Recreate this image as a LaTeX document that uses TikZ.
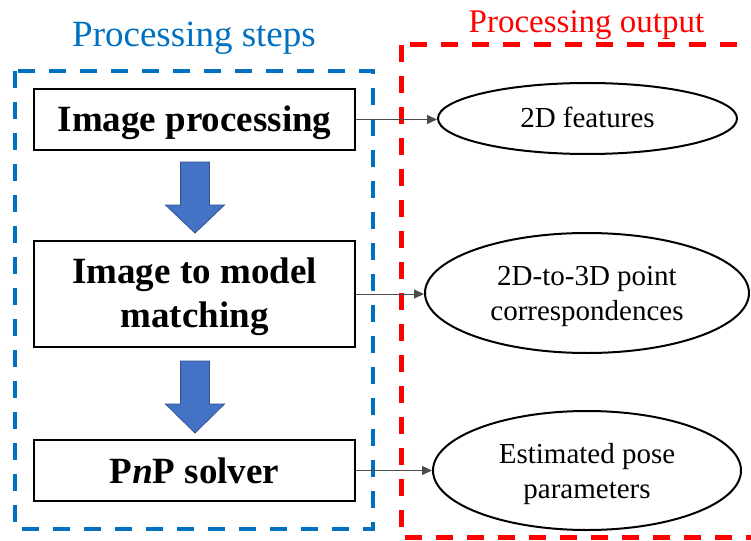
\documentclass[tikz,border=0pt]{standalone}
\usepackage{fontspec}
\setmainfont{Liberation Serif}
\usetikzlibrary{shapes.geometric,arrows.meta}
\definecolor{stepblue}{HTML}{0070C0}
\definecolor{outred}{HTML}{FF0000}
\definecolor{arrowfill}{HTML}{4472C4}
\definecolor{arrowedge}{HTML}{2F528F}
\tikzset{
  stepbox/.style={draw=black, line width=2pt, rectangle, inner sep=0pt,
    minimum width=321pt, font=\fontsize{37}{44}\selectfont\bfseries, align=center},
  outellipse/.style={draw=black, line width=2pt, ellipse, inner sep=0pt,
    font=\fontsize{29}{35}\selectfont, align=center},
  link/.style={draw=black!70, line width=1pt, -{Triangle[length=10pt,width=9pt]}},
  blockarrow/.style={fill=arrowfill, draw=arrowedge, line width=0.8pt, line join=miter},
  groupframe/.style={line width=#1, dash pattern=on 17pt off 14pt},
}
\begin{document}
\begin{tikzpicture}[x=1pt,y=-1pt]
  \path[use as bounding box, fill=white] (0,0) rectangle (751,540);
  \clip (0,0) rectangle (751,540);

  % group frames
  \draw[groupframe=4pt, draw=stepblue] (15,71) rectangle (373,529);
  \draw[groupframe=5pt, draw=outred] (401,45) rectangle (790,537);

  % group titles
  \node[anchor=base, text=stepblue, font=\fontsize{37}{44}\selectfont] (t1) at (194,47) {Processing steps};
  \node[anchor=base, text=outred, font=\fontsize{33}{40}\selectfont] (t2) at (586.5,33) {Processing output};

  % processing steps (multi-line text sits on its last baseline)
  \node[stepbox, minimum height=61pt, text height=25pt, text depth=0pt] (b1) at (194.5,119.5) {Image processing};
  \node[stepbox, minimum height=106pt, text height=69pt, text depth=3pt] (b2) at (194.5,294) {Image to model\\matching};
  \node[stepbox, minimum height=61pt, text height=25pt, text depth=0pt] (b3) at (194.5,470.5) {P\textit{n}P solver};

  % block arrows between the steps
  \draw[blockarrow] (180.5,162) -- (209.5,162) -- (209.5,205) -- (224.5,205) -- (195,233)
    -- (165.5,205) -- (180.5,205) -- cycle;
  \draw[blockarrow] (180.5,361) -- (209.5,361) -- (209.5,404) -- (224.5,404) -- (195,433)
    -- (165.5,404) -- (180.5,404) -- cycle;

  % outputs
  \node[outellipse, minimum width=299pt, minimum height=71pt, text height=19pt, text depth=0pt] (e1) at (587.5,118.5) {2D features};
  \node[outellipse, minimum width=324pt, minimum height=120pt, text height=54pt, text depth=0pt] (e2) at (587,293) {2D-to-3D point\\correspondences};
  \node[outellipse, minimum width=308pt, minimum height=119pt, text height=55pt, text depth=0pt] (e3) at (587,470.5) {Estimated pose\\parameters};

  % step -> output links
  \draw[link] (b1.east) -- (b1.east -| e1.west);
  \draw[link] (b2.east) -- (b2.east -| e2.west);
  \draw[link] (b3.east) -- (b3.east -| e3.west);
\end{tikzpicture}
\end{document}
